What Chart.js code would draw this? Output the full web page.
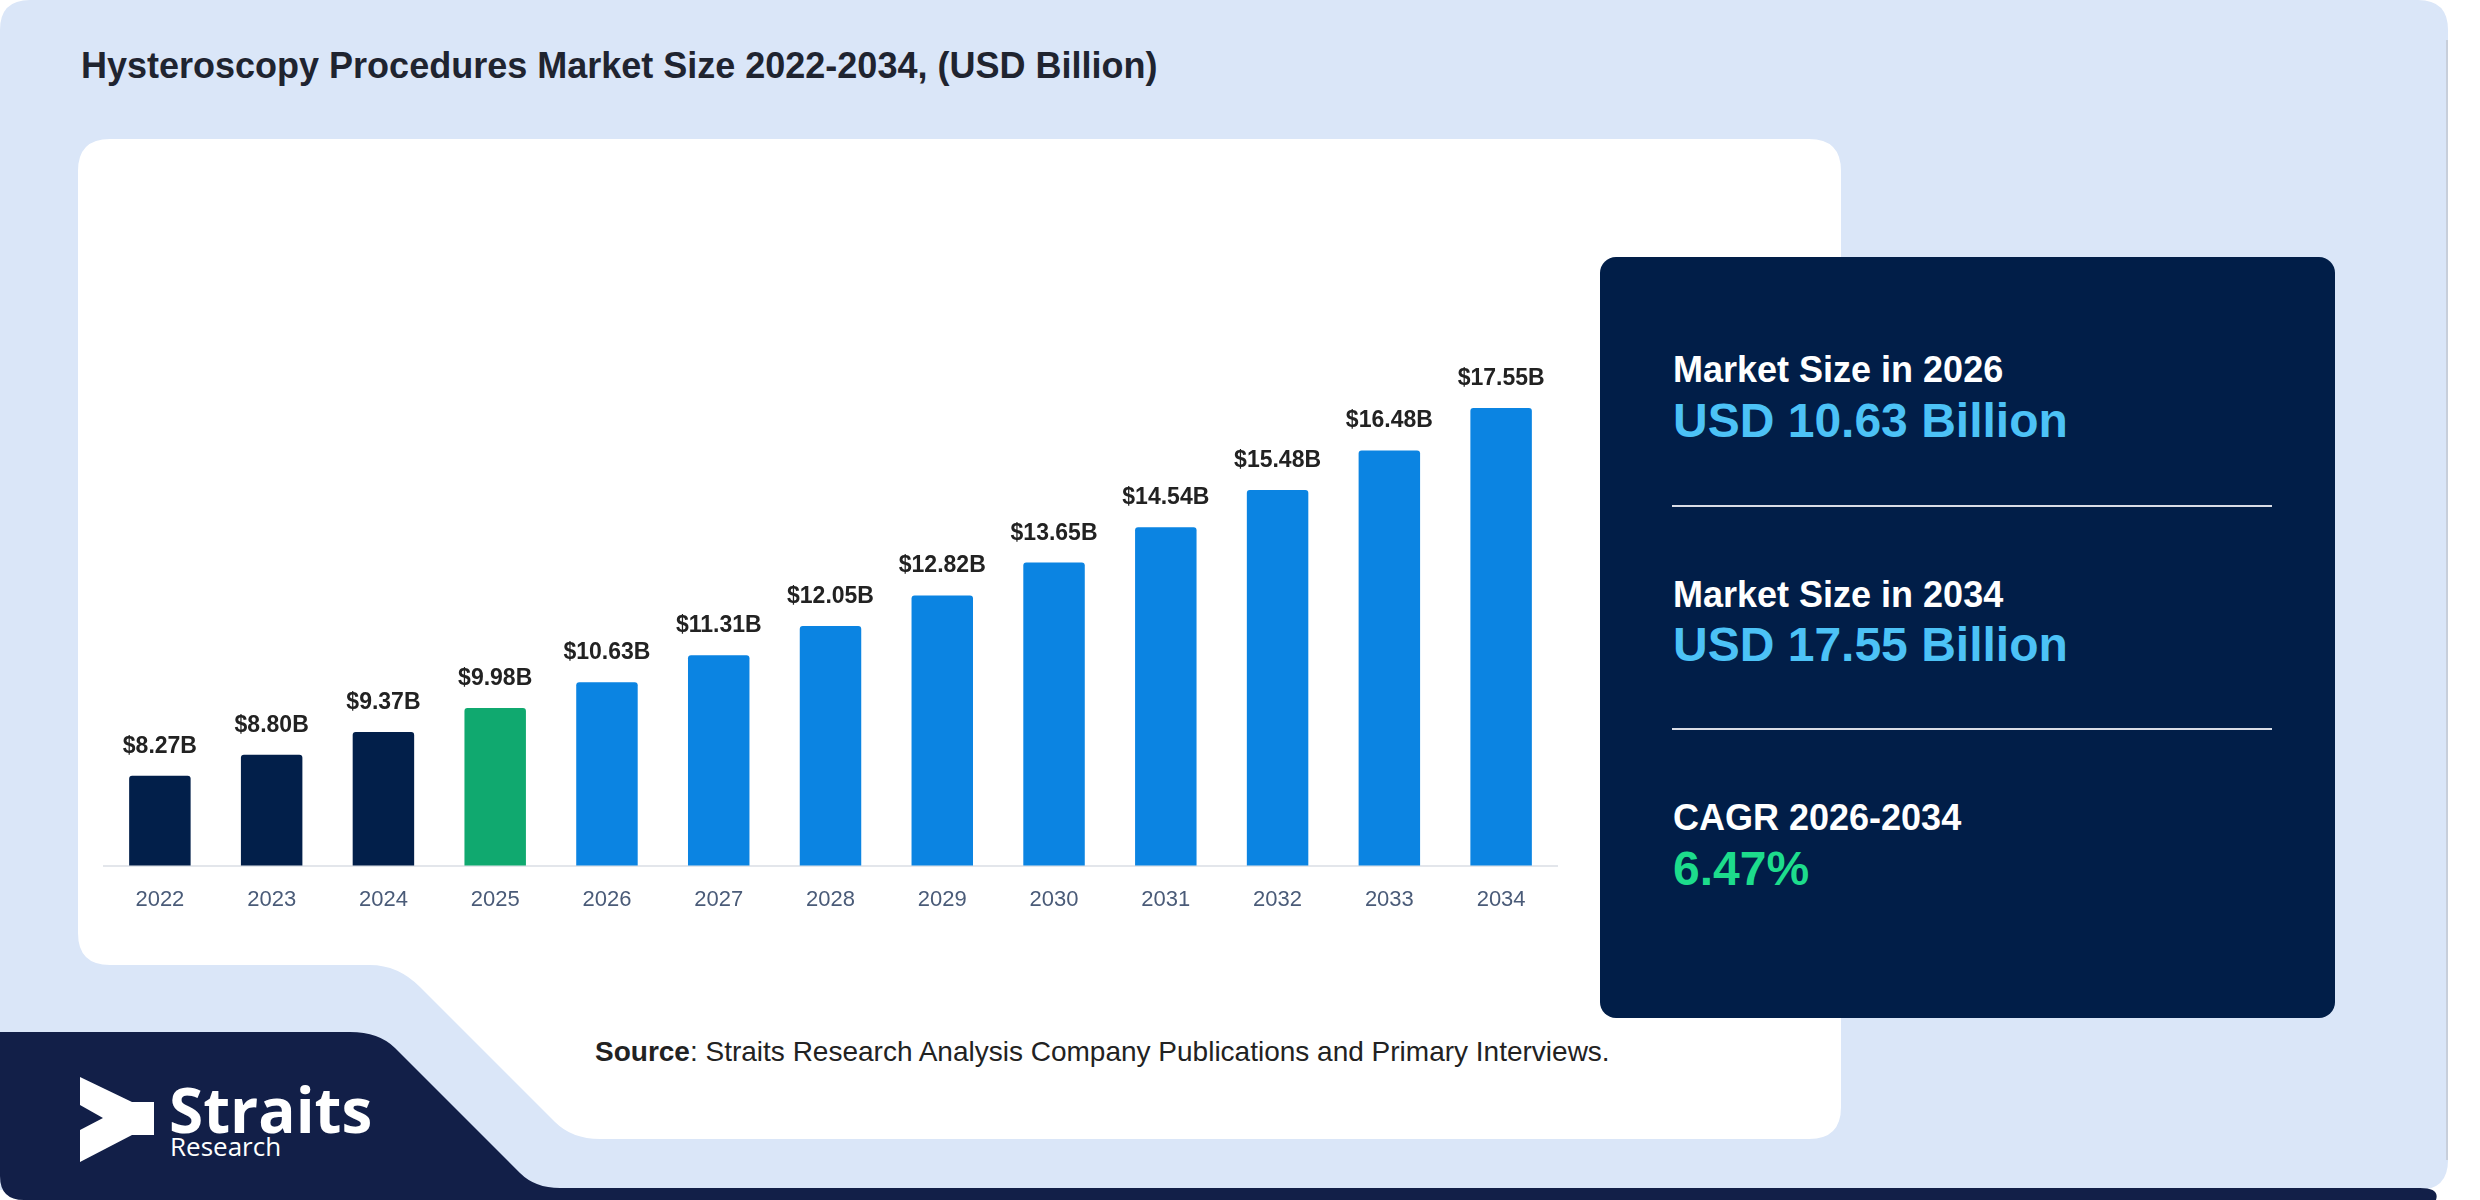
<!DOCTYPE html>
<html lang="en">
<head>
<meta charset="UTF-8">
<title>Hysteroscopy Procedures Market Size</title>
<script src="https://cdn.jsdelivr.net/npm/chart.js@4.4.1/dist/chart.umd.min.js"></script>
<style>
  html, body { margin: 0; padding: 0; background: #ffffff; }
  body { width: 2480px; height: 1200px; position: relative; overflow: hidden; font-family: "Liberation Sans", Arial, sans-serif; }
  .abs { position: absolute; white-space: nowrap; line-height: 1; }
  #bg { position: absolute; left: 0; top: 0; }
  .title { left: 81px; top: 48px; font-size: 36px; font-weight: bold; color: #1f2430; }
  .panel { left: 1600px; top: 257px; width: 735px; height: 761px; background: #011e48; border-radius: 16px; }
  .lbl { left: 1673px; font-size: 36px; font-weight: bold; color: #ffffff; }
  .big { left: 1673px; font-size: 48px; font-weight: bold; color: #4cc2f6; }
  .green { color: #1ddc8c; }
  .rule { left: 1672px; width: 600px; height: 2px; background: #d9dde6; }
  .source { left: 595px; top: 1038px; font-size: 28px; color: #222222; }
  .logo1 { left: 169px; top: 1078px; font-family: "Open Sans", sans-serif; font-weight: bold; font-size: 62px; color: #ffffff; }
  .logo2 { left: 170px; top: 1133px; font-family: "Open Sans", sans-serif; font-size: 26px; color: #ffffff; }
  #chartBox { position: absolute; left: 78px; top: 139px; width: 1763px; height: 795px; }
</style>
</head>
<body>

<svg id="bg" width="2480" height="1200" viewBox="0 0 2480 1200">
  <!-- outer light card -->
  <path d="M0,1190 L2418,1190 Q2448,1190 2448,1160 L2448,30 Q2448,0 2418,0 L30,0 Q0,0 0,30 Z" fill="#dae6f8"/>
  <rect x="2446" y="40" width="2" height="1120" fill="#c8cfdb"/>
  <!-- navy logo block + bottom strip -->
  <path d="M0,1032 L350,1032 Q379,1032 395,1048 L520,1173 Q535,1188 560,1188 L2420,1188 Q2440,1188 2436,1200 L24,1200 Q0,1200 0,1176 Z" fill="#121f48"/>
  <!-- white chart card with notch -->
  <path d="M110,139 L1809,139 Q1841,139 1841,171 L1841,1107 Q1841,1139 1809,1139 L600,1139 Q572,1139 555,1122 L420,987 Q398,965 370,965 L110,965 Q78,965 78,933 L78,171 Q78,139 110,139 Z" fill="#ffffff"/>
  <!-- logo chevron -->
  <path d="M80,1077 L132,1102 L154,1102 L154,1135 L132,1135 L80,1162 L80,1130 L103,1118 L80,1105 Z" fill="#ffffff"/>
</svg>

<div class="abs title">Hysteroscopy Procedures Market Size 2022-2034, (USD Billion)</div>

<div id="chartBox"><canvas id="grafico"></canvas></div>

<div class="abs panel"></div>
<div class="abs lbl" style="top:352px">Market Size in 2026</div>
<div class="abs big" style="top:397px">USD 10.63 Billion</div>
<div class="abs rule" style="top:505px"></div>
<div class="abs lbl" style="top:577px">Market Size in 2034</div>
<div class="abs big" style="top:621px">USD 17.55 Billion</div>
<div class="abs rule" style="top:728px"></div>
<div class="abs lbl" style="top:800px">CAGR 2026-2034</div>
<div class="abs big green" style="top:845px">6.47%</div>

<div class="abs source"><b>Source</b>: Straits Research Analysis Company Publications and Primary Interviews.</div>

<div class="abs logo1">Straits</div>
<div class="abs logo2">Research</div>

<script>
  // dados do grafico
  var anos = ['2022', '2023', '2024', '2025', '2026', '2027', '2028', '2029', '2030', '2031', '2032', '2033', '2034'];
  var valores = [8.27, 8.80, 9.37, 9.98, 10.63, 11.31, 12.05, 12.82, 13.65, 14.54, 15.48, 16.48, 17.55];
  var rotulos = ['$8.27B', '$8.80B', '$9.37B', '$9.98B', '$10.63B', '$11.31B', '$12.05B', '$12.82B', '$13.65B', '$14.54B', '$15.48B', '$16.48B', '$17.55B'];

  // historico, ano base, previsao
  var cores = anos.map(function (a) {
    var n = parseInt(a);
    if (n < 2025) return '#021f4a';
    if (n == 2025) return '#10a96f';
    return '#0b84e2';
  });

  var rotulosPlugin = {
    id: 'rotulos',
    afterDatasetsDraw: function (chart) {
      var ctx = chart.ctx;
      var meta = chart.getDatasetMeta(0);
      ctx.save();
      ctx.font = 'bold 23px "Liberation Sans", Arial, sans-serif';
      ctx.fillStyle = '#222222';
      ctx.textAlign = 'center';
      ctx.textBaseline = 'alphabetic';
      meta.data.forEach(function (bar, i) {
        ctx.fillText(rotulos[i], bar.x, bar.y - 23);
      });
      ctx.restore();
    }
  };

  function grafico() {
    var ctx = document.getElementById('grafico').getContext('2d');
    new Chart(ctx, {
      type: 'bar',
      data: {
        labels: anos,
        datasets: [{
          data: valores,
          backgroundColor: cores,
          borderRadius: 3,
          borderSkipped: 'bottom',
          barPercentage: 0.55,
          categoryPercentage: 1
        }]
      },
      options: {
        responsive: true,
        maintainAspectRatio: false,
        animation: false,
        layout: { padding: { left: 26, right: 284, top: 172, bottom: 0 } },
        plugins: {
          legend: { display: false },
          tooltip: { enabled: false }
        },
        scales: {
          x: {
            grid: { display: false, drawTicks: false },
            border: { display: true, color: '#e3e6eb', width: 2 },
            ticks: {
              color: '#4a5b78',
              padding: 21,
              font: { size: 22, family: '"Liberation Sans", Arial, sans-serif' }
            }
          },
          y: {
            display: false,
            min: 6,
            max: 20
          }
        }
      },
      plugins: [rotulosPlugin]
    });
  }
  grafico();
</script>
</body>
</html>
